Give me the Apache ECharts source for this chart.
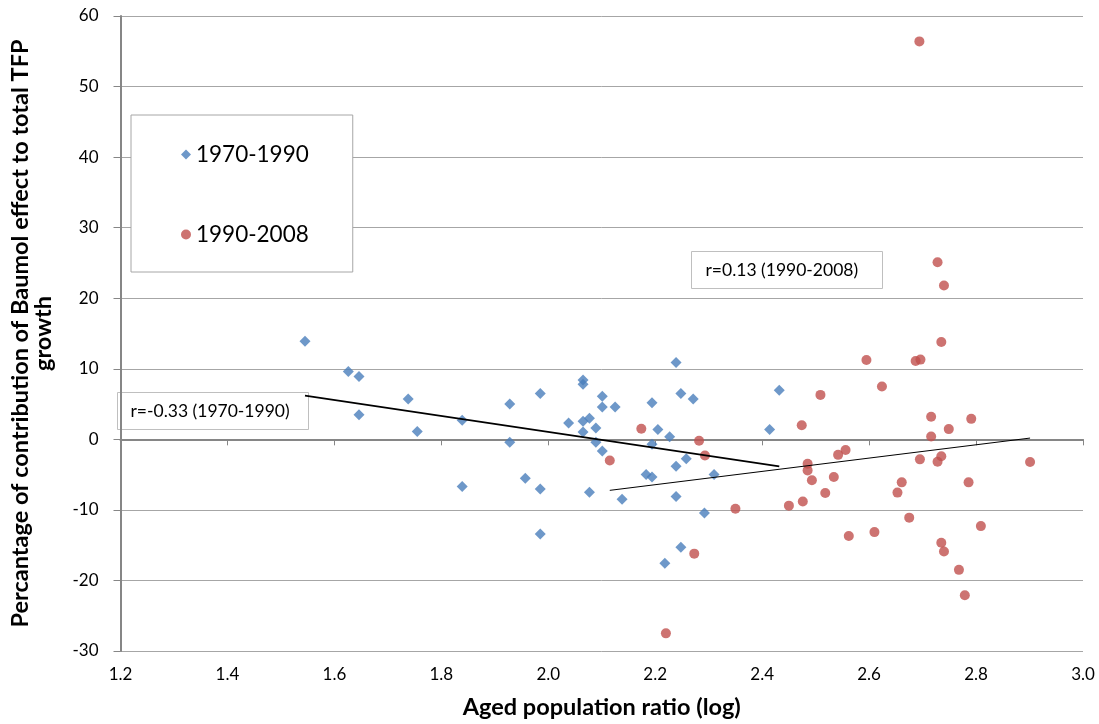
<!DOCTYPE html>
<html>
<head>
<meta charset="utf-8">
<title>Baumol effect vs aged population</title>
<script src="https://cdn.jsdelivr.net/npm/echarts@6/dist/echarts.min.js"></script>
<style>
  html, body { margin: 0; padding: 0; background: #fff; }
  #main { width: 1099px; height: 724px; }
</style>
</head>
<body>
<div id="main"></div>
<script>
// 1970-1990 (blue diamonds)
var blueX = [1.545, 1.626, 1.646, 1.646, 1.738, 1.755, 1.839, 1.839, 1.928, 1.928,
  1.985, 1.957, 1.985, 1.985, 2.038, 2.065, 2.065, 2.065, 2.065, 2.077,
  2.089, 2.089, 2.101, 2.101, 2.101, 2.077, 2.125, 2.138, 2.194, 2.205,
  2.194, 2.183, 2.194, 2.227, 2.239, 2.248, 2.271, 2.258, 2.239, 2.239,
  2.31, 2.292, 2.248, 2.218, 2.414, 2.432];
var blueY = [13.9, 9.6, 8.9, 3.5, 5.7, 1.1, 2.7, -6.7, 5.0, -0.4,
  6.5, -5.5, -7.05, -13.4, 2.3, 8.4, 7.8, 2.55, 1.05, 3.0,
  1.6, -0.4, 6.1, 4.6, -1.65, -7.5, 4.6, -8.5, 5.2, 1.4,
  -0.7, -5.0, -5.35, 0.35, 10.9, 6.5, 5.7, -2.74, -3.8, -8.1,
  -5.0, -10.45, -15.3, -17.55, 1.4, 6.95];

// 1990-2008 (red circles)
var redX = [2.174, 2.115, 2.282, 2.293, 2.35, 2.273, 2.45, 2.474, 2.22, 2.485,
  2.485, 2.493, 2.476, 2.518, 2.534, 2.542, 2.556, 2.562, 2.728, 2.74,
  2.735, 2.595, 2.687, 2.696, 2.624, 2.509, 2.716, 2.791, 2.749, 2.716,
  2.901, 2.695, 2.728, 2.735, 2.661, 2.653, 2.786, 2.675, 2.809, 2.61,
  2.735, 2.74, 2.768, 2.779, 2.694];
var redY = [1.5, -3.0, -0.2, -2.3, -9.85, -16.2, -9.4, 2.0, -27.5, -3.45,
  -4.4, -5.8, -8.8, -7.6, -5.35, -2.2, -1.5, -13.7, 25.1, 21.8,
  13.8, 11.25, 11.1, 11.3, 7.5, 6.3, 3.2, 2.9, 1.45, 0.4,
  -3.2, -2.84, -3.17, -2.4, -6.1, -7.55, -6.1, -11.1, -12.3, -13.15,
  -14.65, -15.9, -18.5, -22.1, 56.4];

// trend line end points
var blueTrendX = [1.545, 2.432];
var blueTrendY = [6.2, -3.83];
var redTrendX = [2.115, 2.901];
var redTrendY = [-7.23, 0.18];

var seriesNames = ['1970-1990', '1990-2008'];
var notes = ['r=-0.33 (1970-1990)', 'r=0.13 (1990-2008)'];

function pairs(xs, ys) {
  return xs.map(function (x, i) { return [x, ys[i]]; });
}

var font = 'Lato, "Open Sans", sans-serif';
var chart = echarts.init(document.getElementById('main'));

var option = {
  animation: false,
  textStyle: { fontFamily: font },
  grid: { left: 119, top: 16, width: 964, height: 635, containLabel: false },
  legend: {
    orient: 'vertical',
    left: 131,
    top: 115,
    data: [
      { name: seriesNames[0], icon: 'diamond' },
      { name: seriesNames[1], icon: 'circle' }
    ],
    itemWidth: 10,
    itemHeight: 10,
    itemGap: 57,
    padding: [28, 44, 26, 50],
    backgroundColor: '#fff',
    borderColor: '#a6a6a6',
    borderWidth: 1,
    textStyle: { fontSize: 22.5, color: '#000', fontFamily: font }
  },
  xAxis: [{
    type: 'value',
    min: 1.2,
    max: 3.0,
    interval: 0.2,
    name: 'Aged population ratio (log)',
    nameLocation: 'middle',
    nameGap: 44,
    nameTextStyle: { fontSize: 23.5, fontWeight: 'bold', color: '#000', fontFamily: font },
    axisLine: { show: false, onZero: false },
    axisTick: { show: false },
    splitLine: { show: false },
    axisLabel: {
      margin: 15, fontSize: 17, color: '#000', fontFamily: font,
      formatter: function (v) { return v.toFixed(1); }
    }
  }, {
    type: 'value',
    min: 1.2,
    max: 3.0,
    interval: 0.2,
    position: 'bottom',
    axisLine: { show: true, onZero: true, lineStyle: { color: '#868686', width: 2 } },
    axisTick: { show: true, length: 6, lineStyle: { color: '#868686', width: 1 } },
    axisLabel: { show: false },
    splitLine: { show: false }
  }],
  yAxis: {
    type: 'value',
    min: -30,
    max: 60,
    interval: 10,
    name: 'Percantage of contribution of Baumol effect to total TFP\ngrowth',
    nameLocation: 'middle',
    nameGap: 66,
    nameTextStyle: { fontSize: 23.5, fontWeight: 'bold', color: '#000', fontFamily: font, lineHeight: 23, align: 'center' },
    axisLine: { show: true, onZero: false, lineStyle: { color: '#868686', width: 2 } },
    axisTick: { show: true, length: 7, lineStyle: { color: '#868686', width: 1 } },
    axisLabel: { margin: 22, fontSize: 17, color: '#000', fontFamily: font },
    splitLine: { show: true, lineStyle: { color: '#a6a6a6', width: 1 } }
  },
  series: [{
    name: seriesNames[0],
    type: 'scatter',
    symbol: 'diamond',
    symbolSize: 11,
    itemStyle: { color: '#4a7ebb' },
    data: pairs(blueX, blueY),
    z: 3
  }, {
    name: seriesNames[1],
    type: 'scatter',
    symbol: 'circle',
    symbolSize: 10,
    itemStyle: { color: '#c0504d' },
    data: pairs(redX, redY),
    z: 3
  }, {
    name: 'trend1',
    type: 'line',
    symbol: 'none',
    silent: true,
    lineStyle: { color: '#000', width: 1.6 },
    data: pairs(blueTrendX, blueTrendY),
    z: 4
  }, {
    name: 'trend2',
    type: 'line',
    symbol: 'none',
    silent: true,
    lineStyle: { color: '#000', width: 1 },
    data: pairs(redTrendX, redTrendY),
    z: 4
  }],
  graphic: [{
    type: 'group',
    left: 117,
    top: 392,
    z: 100,
    children: [{
      type: 'rect',
      shape: { x: 0, y: 0, width: 191, height: 37 },
      style: { fill: '#fff', stroke: '#bfbfbf', lineWidth: 1 }
    }, {
      type: 'text',
      x: 13,
      y: 19,
      style: { text: notes[0], font: '17.5px ' + font, fill: '#000', verticalAlign: 'middle' }
    }]
  }, {
    type: 'group',
    left: 691,
    top: 251,
    z: 100,
    children: [{
      type: 'rect',
      shape: { x: 0, y: 0, width: 191, height: 37 },
      style: { fill: '#fff', stroke: '#bfbfbf', lineWidth: 1 }
    }, {
      type: 'text',
      x: 14,
      y: 19,
      style: { text: notes[1], font: '17.5px ' + font, fill: '#000', verticalAlign: 'middle' }
    }]
  }]
};

chart.setOption(option);
</script>
</body>
</html>
